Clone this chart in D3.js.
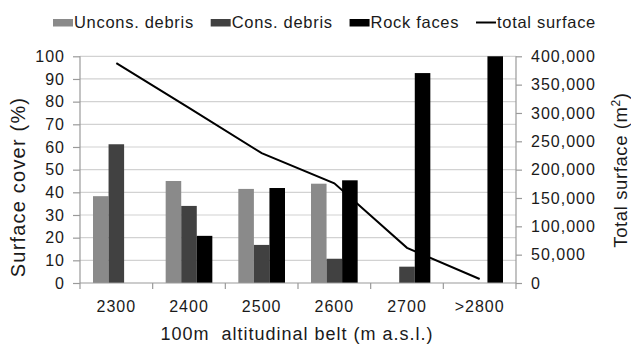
<!DOCTYPE html>
<html>
<head>
<meta charset="utf-8">
<script src="https://cdn.jsdelivr.net/npm/d3@7"></script>
<style>
  body { margin: 0; background: #fff; }
  svg text { font-family: "Liberation Sans", Arial, sans-serif; fill: #1a1a1a; }
</style>
</head>
<body>
<svg id="chart" width="631" height="344"></svg>
<script>
// ---------- Data ----------
const categories = ['2300', '2400', '2500', '2600', '2700', '>2800'];
const seriesNames = ['Uncons. debris', 'Cons. debris', 'Rock faces'];
const unconsDebris = [38.3, 45.0, 41.5, 43.8, 0, 0];
const consDebris = [61.2, 34.0, 16.8, 10.7, 7.2, 0];
const rockFaces = [0, 20.8, 41.9, 45.3, 92.6, 100];
const totalSurface = [388000, 309000, 229000, 176000, 62000, 7000];
const leftTicks = [0, 10, 20, 30, 40, 50, 60, 70, 80, 90, 100];
const rightTicks = [0, 50000, 100000, 150000, 200000, 250000, 300000, 350000, 400000];

const seriesColors = ['#8a8a8a', '#414141', '#000000'];
const seriesValues = [unconsDebris, consDebris, rockFaces];

const svg = d3.select('#chart');
const margin = { left: 80, right: 516, top: 56.3, bottom: 283 };

// ---------- Scales ----------
const x0 = d3.scaleBand().domain(categories).range([margin.left, margin.right]);
const x1 = d3.scaleBand().domain(seriesNames).range([13, x0.bandwidth() - 13]);
const y = d3.scaleLinear().domain([0, 100]).range([margin.bottom, margin.top]);
const yR = d3.scaleLinear().domain([0, 400000]).range([margin.bottom, margin.top]);

// ---------- Gridlines ----------
svg.append('g')
  .selectAll('line')
  .data(leftTicks.filter(d => d > 0))
  .join('line')
  .attr('x1', margin.left).attr('x2', margin.right)
  .attr('y1', d => y(d)).attr('y2', d => y(d))
  .attr('stroke', '#d2d2d2').attr('stroke-width', 1.2);

// ---------- Bars ----------
const rows = categories.map((c, i) => seriesNames.map((s, j) => ({ cat: c, series: s, value: seriesValues[j][i], color: seriesColors[j] })));
svg.append('g')
  .selectAll('g')
  .data(rows)
  .join('g')
  .attr('transform', (d, i) => `translate(${x0(categories[i])},0)`)
  .selectAll('rect')
  .data(d => d.filter(b => b.value > 0))
  .join('rect')
  .attr('x', d => x1(d.series))
  .attr('width', x1.bandwidth())
  .attr('y', d => y(d.value))
  .attr('height', d => y(0) - y(d.value))
  .attr('fill', d => d.color);

// ---------- Axes ----------
const axisColor = '#9a9a9a';
const leftAxis = svg.append('g')
  .attr('transform', `translate(${margin.left},0)`)
  .call(d3.axisLeft(y).tickValues(leftTicks).tickSize(7).tickPadding(8));
const rightAxis = svg.append('g')
  .attr('transform', `translate(${margin.right},0)`)
  .call(d3.axisRight(yR).tickValues(rightTicks).tickSize(6).tickPadding(9).tickFormat(d3.format(',')));
const bottomAxis = svg.append('g')
  .attr('transform', `translate(0,${margin.bottom})`)
  .call(d3.axisBottom(x0).tickSize(0).tickPadding(18));

[leftAxis, rightAxis, bottomAxis].forEach(a => {
  a.select('.domain').attr('stroke', axisColor).attr('stroke-width', 1.2);
  a.selectAll('.tick line').attr('stroke', axisColor).attr('stroke-width', 1.2);
  a.selectAll('text').attr('font-size', 16).attr('fill', '#1a1a1a')
    .attr('letter-spacing', 1)
    .attr('font-family', '"Liberation Sans", Arial, sans-serif');
});
leftAxis.select('.domain').attr('d', `M0,${margin.bottom}V${margin.top}`);
rightAxis.select('.domain').attr('d', `M0,${margin.bottom}V${margin.top}`);
bottomAxis.select('.domain').attr('d', `M${margin.left},0H${margin.right}`);

// category boundary ticks
svg.append('g')
  .selectAll('line')
  .data(categories.concat(['end']))
  .join('line')
  .attr('x1', (d, i) => margin.left + i * x0.bandwidth())
  .attr('x2', (d, i) => margin.left + i * x0.bandwidth())
  .attr('y1', margin.bottom).attr('y2', margin.bottom + 6)
  .attr('stroke', axisColor).attr('stroke-width', 1.2);

// ---------- Total surface line ----------
const line = d3.line()
  .x((d, i) => x0(categories[i]) + x0.bandwidth() / 2)
  .y(d => yR(d));
svg.append('path')
  .datum(totalSurface)
  .attr('d', line)
  .attr('fill', 'none')
  .attr('stroke', '#000')
  .attr('stroke-width', 2);

// ---------- Axis titles ----------
svg.append('text')
  .attr('transform', 'translate(25,187) rotate(-90)')
  .attr('text-anchor', 'middle')
  .attr('font-size', 20)
  .attr('letter-spacing', 1.2)
  .text('Surface cover (%)');

const rt = svg.append('text')
  .attr('transform', 'translate(627,170) rotate(-90)')
  .attr('text-anchor', 'middle')
  .attr('font-size', 18.5)
  .attr('letter-spacing', 0.6);
rt.append('tspan').text('Total surface (m');
rt.append('tspan').attr('font-size', 12).attr('dy', -7).text('2');
rt.append('tspan').attr('dy', 7).text(')');

svg.append('text')
  .attr('x', 297)
  .attr('y', 340)
  .attr('text-anchor', 'middle')
  .attr('font-size', 18)
  .attr('letter-spacing', 1)
  .style('white-space', 'pre')
  .text('100m  altitudinal belt (m a.s.l.)');

// ---------- Legend ----------
const legendItems = [
  { name: 'Uncons. debris', color: seriesColors[0], type: 'rect' },
  { name: 'Cons. debris', color: seriesColors[1], type: 'rect' },
  { name: 'Rock faces', color: seriesColors[2], type: 'rect' },
  { name: 'total surface', color: '#000', type: 'line' }
];
const legendStart = 53, legendEnd = 596, keyW = 20;
const legend = svg.append('g');
const groups = legendItems.map(item => {
  const g = legend.append('g');
  if (item.type === 'rect') {
    g.append('rect').attr('x', 0).attr('y', -3.5).attr('width', keyW).attr('height', 7.5).attr('fill', item.color);
  } else {
    g.append('line').attr('x1', 0).attr('x2', keyW).attr('y1', 0).attr('y2', 0)
      .attr('stroke', item.color).attr('stroke-width', 2);
  }
  const t = g.append('text').attr('x', keyW + 1).attr('y', 5).attr('font-size', 16.5)
    .attr('letter-spacing', 0.7).text(item.name);
  return { g, w: keyW + 1 + t.node().getComputedTextLength() };
});
const totalW = d3.sum(groups, d => d.w);
const gap = (legendEnd - legendStart - totalW) / (groups.length - 1);
let cx = legendStart;
groups.forEach(d => {
  d.g.attr('transform', `translate(${cx},22.5)`);
  cx += d.w + gap;
});
</script>
</body>
</html>
